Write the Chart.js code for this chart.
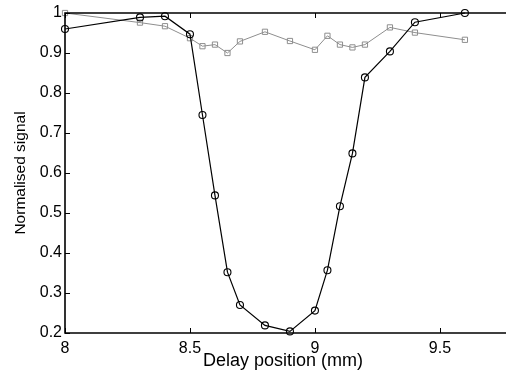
<!DOCTYPE html>
<html>
<head>
<meta charset="utf-8">
<script src="https://cdn.jsdelivr.net/npm/chart.js@4"></script>
<style>
html,body{margin:0;padding:0;background:#fff;overflow:hidden;}
canvas{display:block;}
</style>
</head>
<body>
<canvas id="c" width="506" height="375"></canvas>
<script>
// Data
const xProbe = [8, 8.3, 8.4, 8.5, 8.55, 8.6, 8.65, 8.7, 8.8, 8.9, 9.0, 9.05, 9.1, 9.15, 9.2, 9.3, 9.4, 9.6];
const yProbe = [0.960, 0.989, 0.992, 0.947, 0.745, 0.544, 0.352, 0.270, 0.219, 0.204, 0.256, 0.357, 0.517, 0.649, 0.839, 0.904, 0.977, 1.000];
const xRef = [8, 8.3, 8.4, 8.5, 8.55, 8.6, 8.65, 8.7, 8.8, 8.9, 9.0, 9.05, 9.1, 9.15, 9.2, 9.3, 9.4, 9.6];
const yRef = [1.000, 0.976, 0.967, 0.937, 0.917, 0.921, 0.900, 0.929, 0.953, 0.930, 0.908, 0.943, 0.921, 0.914, 0.921, 0.964, 0.951, 0.933];
const xTickValues = [8, 8.5, 9, 9.5];
const yTickValues = [0.2, 0.3, 0.4, 0.5, 0.6, 0.7, 0.8, 0.9, 1];
const xMin = 8, xMax = 9.744, yMin = 0.2, yMax = 1;
const xLabel = 'Delay position (mm)';
const yLabel = 'Normalised signal';

const FONT = '"Liberation Sans", Arial, Helvetica, sans-serif';

const frame = {
  id: 'frame',
  afterDatasetsDraw(chart) {
    const {ctx, chartArea: a, scales, width} = chart;
    ctx.save();
    ctx.strokeStyle = '#000';
    ctx.lineWidth = 1;
    const T = 5;
    ctx.beginPath();
    scales.x.ticks.forEach(t => {
      const px = Math.round(scales.x.getPixelForValue(t.value)) + 0.5;
      ctx.moveTo(px, a.bottom); ctx.lineTo(px, a.bottom - T);
      ctx.moveTo(px, a.top); ctx.lineTo(px, a.top + T);
    });
    scales.y.ticks.forEach(t => {
      const py = Math.round(scales.y.getPixelForValue(t.value)) + 0.5;
      ctx.moveTo(a.left, py); ctx.lineTo(a.left + T, py);
    });
    ctx.stroke();
    ctx.lineWidth = 1.6;
    ctx.beginPath();
    ctx.moveTo(width, a.top);
    ctx.lineTo(a.left, a.top);
    ctx.lineTo(a.left, a.bottom);
    ctx.lineTo(width, a.bottom);
    ctx.stroke();
    ctx.restore();
  }
};

const probePts = xProbe.map((x, i) => ({x, y: yProbe[i]}));
const refPts = xRef.map((x, i) => ({x, y: yRef[i]}));

new Chart(document.getElementById('c'), {
  type: 'line',
  data: {
    datasets: [
      {
        data: probePts,
        borderColor: '#000',
        borderWidth: 1.2,
        pointStyle: 'circle',
        pointRadius: 3.5,
        pointBorderWidth: 1.1,
        pointBorderColor: '#000',
        pointBackgroundColor: 'rgba(0,0,0,0)',
        tension: 0,
        clip: false,
        order: 0
      },
      {
        data: refPts,
        borderColor: '#8e8e8e',
        borderWidth: 1,
        pointStyle: 'rect',
        pointRadius: 3.7,
        pointBorderWidth: 1,
        pointBorderColor: '#8e8e8e',
        pointBackgroundColor: 'rgba(0,0,0,0)',
        tension: 0,
        clip: false,
        order: 1
      }
    ]
  },
  options: {
    responsive: false,
    animation: false,
    layout: {padding: {top: 13, right: -4.4, left: 0, bottom: 0}},
    plugins: {legend: {display: false}, tooltip: {enabled: false}},
    scales: {
      x: {
        type: 'linear',
        min: xMin,
        max: xMax,
        afterBuildTicks: s => { s.ticks = xTickValues.map(v => ({value: v})); },
        afterFit: s => { s.height = 42; },
        grid: {display: false, drawTicks: false},
        border: {display: false},
        ticks: {
          padding: 6,
          color: '#000',
          font: {family: FONT, size: 16},
          maxRotation: 0,
          callback: v => String(v)
        },
        title: {
          display: true,
          text: xLabel,
          color: '#000',
          font: {family: FONT, size: 18},
          padding: {top: 0, bottom: 3}
        }
      },
      y: {
        type: 'linear',
        min: yMin,
        max: yMax,
        afterBuildTicks: s => { s.ticks = yTickValues.map(v => ({value: v})); },
        afterFit: s => { s.width = 65; },
        grid: {display: false, drawTicks: false},
        border: {display: false},
        ticks: {
          padding: 3,
          color: '#000',
          font: {family: FONT, size: 16},
          callback: v => String(Math.round(v * 10) / 10)
        },
        title: {
          display: true,
          text: yLabel,
          color: '#000',
          font: {family: FONT, size: 15.5},
          padding: {top: 11, bottom: 0}
        }
      }
    }
  },
  plugins: [frame]
});
</script>
</body>
</html>
